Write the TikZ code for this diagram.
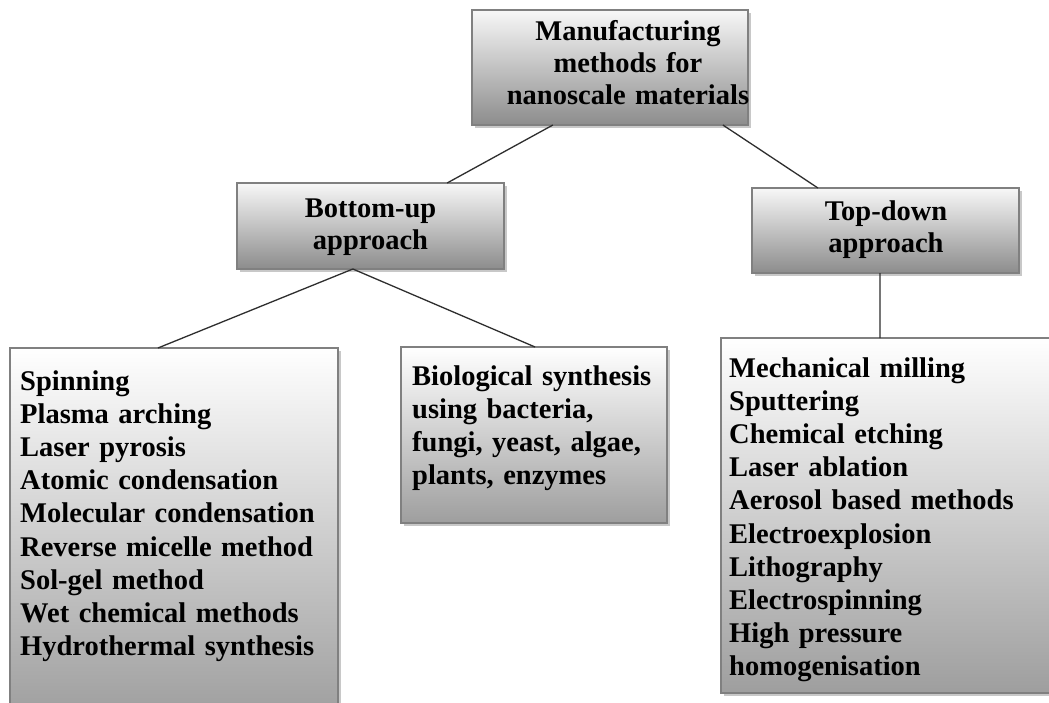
\documentclass[tikz,border=0pt]{standalone}
\usepackage{fontspec}
\setmainfont{Liberation Serif}
\usetikzlibrary{shadows,calc}
\begin{document}
\begin{tikzpicture}[x=1pt,y=-1pt,
  box/.style={draw=black!50, line width=1.1pt, inner sep=0pt, outer sep=0pt, anchor=north west,
    drop shadow={shadow xshift=2.5pt, shadow yshift=-2.5pt, opacity=0.3, fill=black!70}},
  headbox/.style={box, top color=white!97!black, bottom color=black!45},
  leafbox/.style={box, top color=white, bottom color=black!38},
  headtxt/.style={font=\bfseries\fontsize{28.5}{32}\selectfont, inner sep=0pt, text width=320pt, align=center, anchor=base},
  leaftxt/.style={font=\bfseries\fontsize{28.5}{33.2}\selectfont, inner sep=0pt, text width=330pt, align=left, anchor=base west},
  conn/.style={draw=black!82, line width=1.3pt}
]
\useasboundingbox (0,0) rectangle (1049,702);
\clip (0,0) rectangle (1049,702);
\fill[white] (0,0) rectangle (1049,702);

% heading boxes
\node[headbox, minimum width=276, minimum height=115] (top) at (472,10) {};
\node[headtxt] (toptxt) at (628,40) {Manufacturing\\methods for\\nanoscale materials};

\node[headbox, minimum width=267, minimum height=86] (bu) at (237,183) {};
\node[headtxt] (butxt) at (370.5,217) {Bottom-up\\approach};

\node[headbox, minimum width=267, minimum height=85] (td) at (752,188) {};
\node[headtxt] (tdtxt) at (886,220) {Top-down\\approach};

% leaf boxes
\node[leafbox, minimum width=328, minimum height=370] (l1) at (10,348) {};
\node[leaftxt] (l1txt) at (20,390) {Spinning\\Plasma arching\\Laser pyrosis\\Atomic condensation\\Molecular condensation\\Reverse micelle method\\Sol-gel method\\Wet chemical methods\\Hydrothermal synthesis};

\node[leafbox, minimum width=266, minimum height=176] (l2) at (401,347) {};
\node[leaftxt] (l2txt) at (412,385) {Biological synthesis\\using bacteria,\\fungi, yeast, algae,\\plants, enzymes};

\node[leafbox, minimum width=332, minimum height=355] (l3) at (721,338) {};
\node[leaftxt] (l3txt) at (729,377) {Mechanical milling\\Sputtering\\Chemical etching\\Laser ablation\\Aerosol based methods\\Electroexplosion\\Lithography\\Electrospinning\\High pressure\\homogenisation};

% connectors
\draw[conn] ($(top.south west)!0.293!(top.south east)$) -- ($(bu.north west)!0.787!(bu.north east)$);
\draw[conn] ($(top.south west)!0.909!(top.south east)$) -- ($(td.north west)!0.247!(td.north east)$);
\draw[conn] ($(bu.south west)!0.434!(bu.south east)$) -- ($(l1.north west)!0.451!(l1.north east)$);
\draw[conn] ($(bu.south west)!0.434!(bu.south east)$) -- ($(l2.north west)!0.504!(l2.north east)$);
\draw[conn] ($(td.south west)!0.479!(td.south east)$) -- ($(l3.north west)!0.479!(l3.north east)$);
\end{tikzpicture}
\end{document}
